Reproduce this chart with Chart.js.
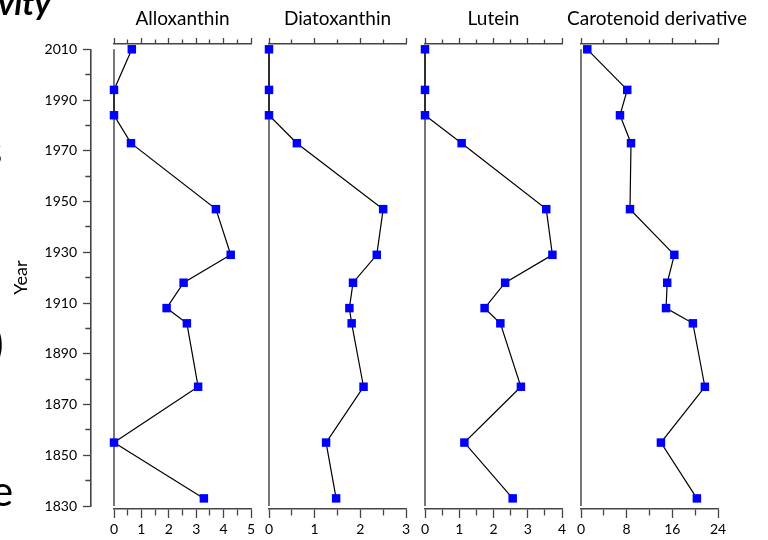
<!DOCTYPE html>
<html>
<head>
<meta charset="utf-8">
<script src="https://cdn.jsdelivr.net/npm/chart.js@4/dist/chart.umd.min.js"></script>
<style>
    body { margin: 0; background: #fff; width: 768px; height: 540px; position: relative; overflow: hidden; font-family: Lato, sans-serif; }
    canvas { position: absolute; top: 0; }
    .frag { position: absolute; color: #000; line-height: 1; white-space: nowrap; -webkit-font-smoothing: antialiased; will-change: transform; }
</style>
</head>
<body>
<div class="frag" style="left:-2px; top:-18px; font: italic bold 33px Lato;">vity</div>
<div class="frag" style="left:-15px; top:130px; font-size:40px;">s</div>
<div class="frag" style="left:-8px; top:320px; font-size:44px;">)</div>
<div class="frag" style="left:-9px; top:469px; font-size:42px;">e</div>

<canvas id="yearAxis" width="95" height="540" style="left:0"></canvas>
<canvas id="p1" width="161" height="540" style="left:102px"></canvas>
<canvas id="p2" width="161" height="540" style="left:257px"></canvas>
<canvas id="p3" width="161" height="540" style="left:413px"></canvas>
<canvas id="p4" width="210" height="540" style="left:552px"></canvas>

<script>
// core depths (years) from top to bottom
const years = [2010, 1994, 1984, 1973, 1947, 1929, 1918, 1908, 1902, 1877, 1855, 1833];

const alloxanthin  = [0.65, 0, 0, 0.62, 3.72, 4.26, 2.54, 1.92, 2.66, 3.07, 0, 3.28];
const diatoxanthin = [0, 0, 0, 0.61, 2.50, 2.36, 1.84, 1.76, 1.81, 2.07, 1.25, 1.47];
const lutein       = [0, 0, 0, 1.07, 3.54, 3.72, 2.34, 1.74, 2.20, 2.80, 1.15, 2.56];
const carotenoid   = [1.1, 8.1, 6.83, 8.76, 8.58, 16.35, 15.1, 14.9, 19.6, 21.7, 14.0, 20.3];

const titles = ["Alloxanthin", "Diatoxanthin", "Lutein", "Carotenoid derivative"];
const xMax = [5, 3, 4, 24];
const xStep = [0.5, 0.5, 0.5, 4];
const xLabelStep = [1, 1, 1, 8];

const yearMin = 1830;
const yearMax = 2010;
const yearStep = 10;
const yearLabelStep = 20;

const axisColor = "#444";

Chart.defaults.font.family = "Lato";
Chart.defaults.color = "#000";
Chart.defaults.animation = false;

function isMajor(v, step) {
    const r = v / step;
    return Math.abs(r - Math.round(r)) < 1e-6;
}

// vertical zero line of each panel, from the first to the last year
const zeroLine = {
    id: "zeroLine",
    beforeDatasetsDraw(chart) {
        const x = chart.scales.x.getPixelForValue(0);
        const y1 = chart.scales.y.getPixelForValue(yearMax);
        const y2 = chart.scales.y.getPixelForValue(yearMin);
        const ctx = chart.ctx;
        ctx.save();
        ctx.strokeStyle = "#555";
        ctx.lineWidth = 1.6;
        ctx.beginPath();
        ctx.moveTo(x, y1);
        ctx.lineTo(x, y2);
        ctx.stroke();
        ctx.restore();
    }
};

// year axis on its own
new Chart(document.getElementById("yearAxis"), {
    type: "scatter",
    data: { datasets: [] },
    options: {
        responsive: false,
        layout: { padding: { top: 49.3, bottom: 34, left: 0, right: 4 } },
        plugins: { legend: { display: false }, tooltip: { enabled: false } },
        scales: {
            x: { display: false, min: 0, max: 1 },
            y: {
                min: yearMin,
                max: yearMax,
                afterFit: function (scale) { scale.width = 91; },
                title: {
                    display: true,
                    text: "Year",
                    font: { size: 18 },
                    color: "#000",
                    padding: { top: 10, bottom: 0 }
                },
                ticks: {
                    stepSize: yearStep,
                    autoSkip: false,
                    padding: 6,
                    font: { size: 14 },
                    callback: v => isMajor(v - yearMin, yearLabelStep) ? String(v) : ""
                },
                grid: {
                    drawOnChartArea: false,
                    tickLength: 8,
                    tickColor: axisColor,
                    tickWidth: 1.3,
                    tickBorderDash: c => (c.tick && !isMajor(c.tick.value - yearMin, yearLabelStep)) ? [0, 2.3, 5, 100] : []
                },
                border: { color: axisColor, width: 1.6 }
            }
        }
    }
});

// empty side axis, only used to hold the plot area away from the canvas edge
function spacer(position, width) {
    return {
        position: position,
        display: true,
        min: 0,
        max: 1,
        afterFit: function (scale) { scale.width = width; },
        ticks: { display: false },
        grid: { display: false },
        border: { display: false }
    };
}

function makePanel(id, title, values, max, step, labelStep, padLeft, padRight) {
    const points = values.map((v, i) => ({ x: v, y: years[i] }));
    const gridBase = {
        drawOnChartArea: false,
        tickColor: axisColor,
        tickWidth: 1.3
    };
    return new Chart(document.getElementById(id), {
        type: "scatter",
        data: {
            datasets: [{
                data: points,
                showLine: true,
                borderColor: "#000",
                borderWidth: 1.2,
                pointStyle: "rect",
                pointRadius: 6,
                pointBorderWidth: 0,
                pointBackgroundColor: "#0000ff",
                clip: false
            }]
        },
        options: {
            responsive: false,
            layout: { padding: 0 },
            plugins: {
                legend: { display: false },
                tooltip: { enabled: false },
                title: {
                    display: true,
                    text: title,
                    color: "#000",
                    font: { size: 19, weight: "normal" },
                    padding: { top: 7, bottom: 4 }
                }
            },
            scales: {
                x: {
                    position: "bottom",
                    min: 0,
                    max: max,
                    afterFit: function (scale) { scale.height = 31; },
                    ticks: {
                        stepSize: step,
                        autoSkip: false,
                        maxRotation: 0,
                        padding: 3,
                        font: { size: 14 },
                        callback: v => isMajor(v, labelStep) ? String(v) : ""
                    },
                    grid: Object.assign({}, gridBase, {
                        tickLength: 9,
                        tickBorderDash: c => (c.tick && !isMajor(c.tick.value, labelStep)) ? [6, 100] : []
                    }),
                    border: { color: axisColor, width: 1.5 }
                },
                x2: {
                    position: "top",
                    min: 0,
                    max: max,
                    afterFit: function (scale) { scale.height = 10.2; },
                    ticks: { display: false, stepSize: step, autoSkip: false },
                    grid: Object.assign({}, gridBase, {
                        tickLength: 6,
                        tickBorderDash: c => (c.tick && !isMajor(c.tick.value, labelStep)) ? [0, 1.5, 4, 100] : []
                    }),
                    border: { color: axisColor, width: 1.5 }
                },
                y: Object.assign(spacer("left", padLeft), { min: 1828.82, max: 2012.09 }),
                yRight: spacer("right", padRight)
            }
        },
        plugins: [zeroLine]
    });
}

makePanel("p1", titles[0], alloxanthin, xMax[0], xStep[0], xLabelStep[0], 12, 12);
makePanel("p2", titles[1], diatoxanthin, xMax[1], xStep[1], xLabelStep[1], 12, 12);
makePanel("p3", titles[2], lutein, xMax[2], xStep[2], xLabelStep[2], 12, 12);
makePanel("p4", titles[3], carotenoid, xMax[3], xStep[3], xLabelStep[3], 29, 44);
</script>
</body>
</html>
